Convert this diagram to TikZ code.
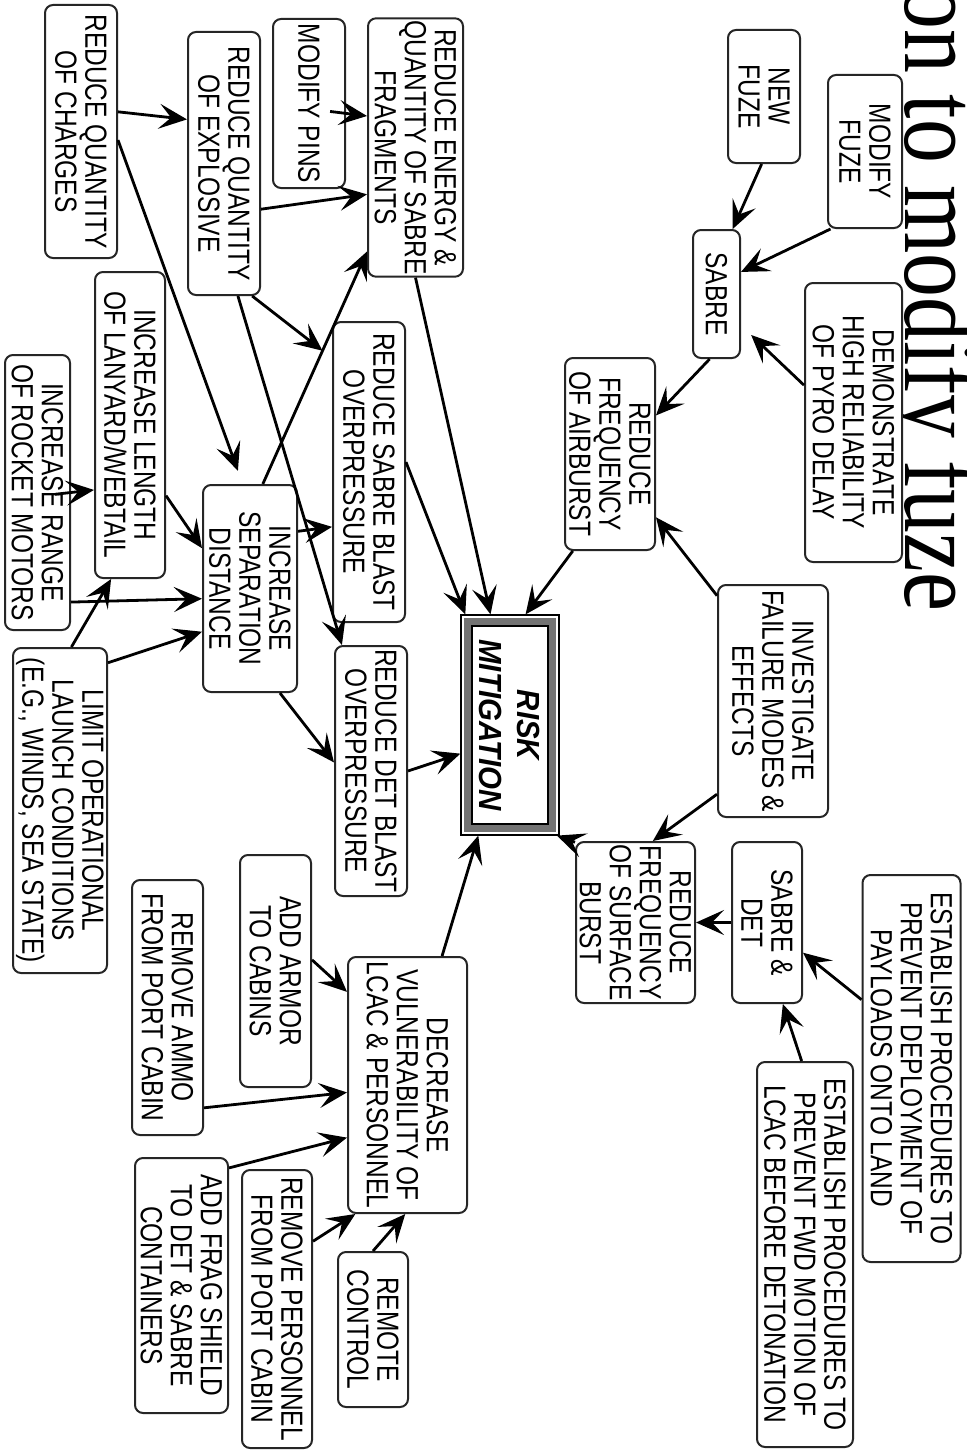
\documentclass[tikz,border=0pt]{standalone}
\usepackage{fontspec}
\usetikzlibrary{arrows.meta}
\newfontfamily\boxfont[FakeStretch=0.8]{Liberation Sans}
\newfontfamily\riskfont[FakeStretch=0.92]{Liberation Sans}
\newfontfamily\titlefont[FakeStretch=0.82]{Liberation Serif}
\tikzset{
  box/.style={draw=black!85, line width=1pt, rounded corners=4pt, rotate=-90,
    align=center, inner sep=1pt, fill=white,
    font={\boxfont\fontsize{15.3}{15}\selectfont}},
  arr/.style={line width=1.4pt, -{Stealth[length=14pt,width=12.5pt,inset=6pt]}},
}
\begin{document}
\begin{tikzpicture}[x={(0.5pt,0)}, y={(0,-0.5pt)}]
\useasboundingbox (0,0) rectangle (966,1450);
\clip (0,0) rectangle (966,1450);
\fill[white] (0,0) rectangle (966,1450);

% title
\node[rotate=-90, anchor=base west, inner sep=0pt,
  font={\titlefont\fontsize{53.5}{60}\selectfont}] (title) at (905,-15) {on to modify fuze};

% boxes
\node[box, minimum width=66.5pt, minimum height=36pt] (newfuze) at (764,96.5) {NEW\\FUZE};
\node[box, minimum width=76.5pt, minimum height=37pt] (modfuze) at (865,151.5) {MODIFY\\FUZE};
\node[box, minimum width=64pt, minimum height=23.5pt] (sabre) at (716.5,294) {SABRE};
\node[box, minimum width=139.5pt, minimum height=48.5pt] (demo) at (853.5,422.5) {DEMONSTRATE\\HIGH RELIABILITY\\OF PYRO DELAY};
\node[box, minimum width=96pt, minimum height=45pt] (airburst) at (610,454) {REDUCE\\FREQUENCY\\OF AIRBURST};
\node[box, minimum width=116pt, minimum height=55pt] (investigate) at (773,701) {INVESTIGATE\\FAILURE MODES \&\\EFFECTS};
\node[box, minimum width=80.5pt, minimum height=59.5pt] (surface) at (635.5,922.5) {REDUCE\\FREQUENCY\\OF SURFACE\\BURST};
\node[box, minimum width=80.5pt, minimum height=35pt] (sabredet) at (767,922.5) {SABRE \&\\DET};
\node[box, minimum width=193.5pt, minimum height=49pt] (estland) at (911.5,1068.5) {ESTABLISH PROCEDURES TO\\PREVENT DEPLOYMENT OF\\PAYLOADS ONTO LAND};
\node[box, minimum width=192.5pt, minimum height=48pt] (estfwd) at (805,1254.5) {ESTABLISH PROCEDURES TO\\PREVENT FWD MOTION OF\\LCAC BEFORE DETONATION};
\node[box, minimum width=125pt, minimum height=36pt] (detblast) at (371,771) {REDUCE DET BLAST\\OVERPRESSURE};
\node[box, minimum width=150pt, minimum height=36pt] (sabreblast) at (369,472) {REDUCE SABRE BLAST\\OVERPRESSURE};
\node[box, minimum width=127.5pt, minimum height=47.5pt] (energy) at (415.5,147.5) {REDUCE ENERGY \&\\QUANTITY OF SABRE\\FRAGMENTS};
\node[box, minimum width=84.5pt, minimum height=36pt] (pins) at (309,103.5) {MODIFY PINS};
\node[box, minimum width=131.5pt, minimum height=36pt] (explosive) at (224,163.5) {REDUCE QUANTITY\\OF EXPLOSIVE};
\node[box, minimum width=126.5pt, minimum height=36pt] (charges) at (81,131.5) {REDUCE QUANTITY\\OF CHARGES};
\node[box, minimum width=153pt, minimum height=35pt] (lanyard) at (130,425) {INCREASE LENGTH\\OF LANYARD/WEBTAIL};
\node[box, minimum width=137.5pt, minimum height=32.5pt] (range) at (37.5,492.5) {INCREASE RANGE\\OF ROCKET MOTORS};
\node[box, minimum width=162.5pt, minimum height=47pt] (limit) at (60,810.5) {LIMIT OPERATIONAL\\LAUNCH CONDITIONS\\(E.G., WINDS, SEA STATE)};
\node[box, minimum width=103.5pt, minimum height=47pt] (separation) at (250,588.5) {INCREASE\\SEPARATION\\DISTANCE};
\node[box, minimum width=116pt, minimum height=35.5pt] (armor) at (275.5,971) {ADD ARMOR\\TO CABINS};
\node[box, minimum width=127.5pt, minimum height=35.5pt] (ammo) at (167.5,1007.5) {REMOVE AMMO\\FROM PORT CABIN};
\node[box, minimum width=128pt, minimum height=59.5pt] (decrease) at (407.5,1085) {DECREASE\\VULNERABILITY OF\\LCAC \& PERSONNEL};
\node[box, minimum width=127.5pt, minimum height=46.5pt] (frag) at (181.5,1285.5) {ADD FRAG SHIELD\\TO DET \& SABRE\\CONTAINERS};
\node[box, minimum width=139pt, minimum height=35pt] (personnel) at (277,1309) {REMOVE PERSONNEL\\FROM PORT CABIN};
\node[box, minimum width=77.5pt, minimum height=35pt] (remote) at (373,1329.5) {REMOTE\\CONTROL};

% risk mitigation (double frame)
\node[rotate=-90, draw=black, line width=0.6pt, fill=white, minimum width=110pt, minimum height=49pt, inner sep=0pt] (risk) at (510,725) {};
\node[rotate=-90, fill=black!55, minimum width=107pt, minimum height=46pt, inner sep=0pt] (riskband) at (510,725) {};
\node[rotate=-90, draw=black, line width=0.6pt, fill=white, minimum width=99pt, minimum height=38pt, inner sep=0pt, align=center,
  font={\riskfont\bfseries\itshape\fontsize{16}{19}\selectfont}] (riskin) at (510,725) {RISK\\MITIGATION};

% connectors
\draw[arr] (newfuze.358) -- (sabre.166);
\draw[arr] (modfuze.336) -- (sabre.132);
\draw[arr, shorten >=7pt] (demo.233) -- (sabre.38);
\draw[arr] (sabre.354) -- (airburst.130);
\draw[arr] (airburst.339) -- (risk.172);
\draw[arr] (investigate.208) -- (airburst.36);
\draw[arr] (investigate.329) -- (surface.168);
\draw[arr] (sabredet.south) -- (surface.north);
\draw[arr] (estland.216) -- (sabredet.50);
\draw[arr] (estfwd.181) -- (sabredet.11);
\draw[arr] (surface.217) -- (risk.23);
\draw[arr] (energy.east) -- (risk.190);
\draw[arr] (sabreblast.105) -- (risk.202);
\draw[arr] (detblast.north) -- (risk.300);
\draw[arr] (decrease.165) -- (risk.344);
\draw[arr, shorten <=-8pt] (pins.75) -- (energy.237);
\draw[arr] (explosive.39) -- (energy.314);
\draw[arr] (charges.118) -- (explosive.220);
\draw[arr, shorten >=7pt] (charges.77) -- (separation.184);
\draw[arr, shorten >=6pt] (explosive.12) -- (sabreblast.198);
\draw[arr] (explosive.6) -- (detblast.193);
\draw[arr] (separation.173) -- (energy.335);
\draw[arr] (separation.140) -- (sabreblast.326);
\draw[arr] (separation.16) -- (detblast.257);
\draw[arr] (lanyard.27) -- (separation.230);
\draw[arr] (range.17) -- (separation.282);
\draw[arr, shorten <=-8pt] (range.north) -- (lanyard.331);
\draw[arr] (limit.176) -- (lanyard.353);
\draw[arr] (limit.162) -- (separation.312);
\draw[arr] (armor.107) -- (decrease.213);
\draw[arr] (ammo.20) -- (decrease.277);
\draw[arr] (frag.158) -- (decrease.311);
\draw[arr] (personnel.152) -- (decrease.338);
\draw[arr] (remote.west) -- (decrease.359);
\end{tikzpicture}
\end{document}
